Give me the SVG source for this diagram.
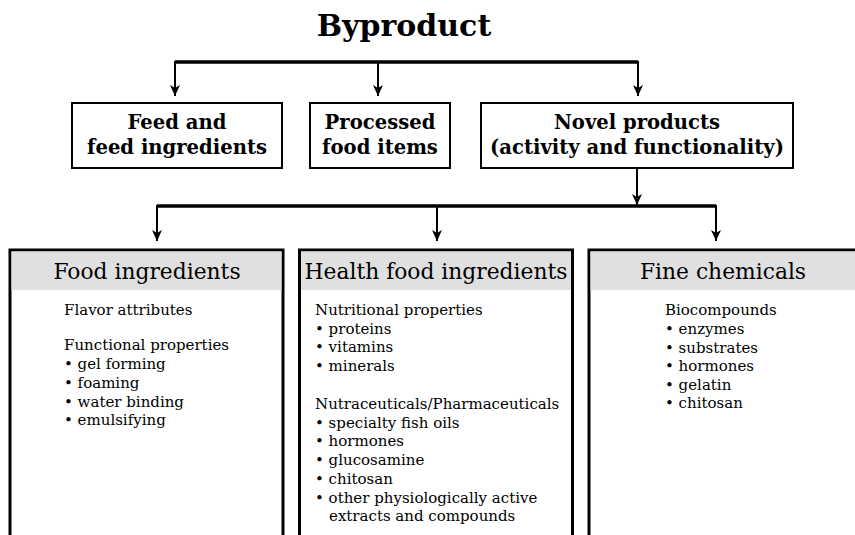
<svg xmlns="http://www.w3.org/2000/svg" width="855" height="535" viewBox="0 0 855 535">
<style>
text{font-family:"DejaVu Serif","Liberation Serif",serif;fill:#000}
.title{font-size:30px;font-weight:bold;text-anchor:middle}
.top{font-size:19.6px;font-weight:bold;text-anchor:middle}
.hdr{font-size:21.8px;text-anchor:middle}
.body{font-size:15px}
.tbox{fill:#fff;stroke:#000;stroke-width:2}
.bbox{fill:#fff;stroke:#000;stroke-width:3}
.band{fill:#e0e0e0}
.ln{fill:none;stroke:#000;stroke-width:2}
.hl{fill:none;stroke:#000;stroke-width:3.5}
</style>
<defs>
<marker id="ah" markerUnits="userSpaceOnUse" markerWidth="12" markerHeight="10" refX="11" refY="5" orient="auto" viewBox="0 0 12 10">
<path d="M0,0 L11,5 L0,10 L3,5 Z" fill="#000"/>
</marker>
</defs>
<text class="title" x="404" y="36">Byproduct</text>
<g id="connectors">
<line class="hl" x1="175" y1="62" x2="638" y2="62"/>
<line class="ln" x1="175" y1="61" x2="175" y2="96" marker-end="url(#ah)"/>
<line class="ln" x1="378" y1="61" x2="378" y2="96" marker-end="url(#ah)"/>
<line class="ln" x1="638" y1="61" x2="638" y2="96" marker-end="url(#ah)"/>
<line class="ln" x1="637" y1="168" x2="637" y2="205" marker-end="url(#ah)"/>
<line class="hl" x1="157" y1="206" x2="716" y2="206"/>
<line class="ln" x1="157" y1="205" x2="157" y2="241" marker-end="url(#ah)"/>
<line class="ln" x1="437" y1="205" x2="437" y2="241" marker-end="url(#ah)"/>
<line class="ln" x1="716" y1="205" x2="716" y2="241" marker-end="url(#ah)"/>
</g>
<g id="feed">
<rect class="tbox" x="72" y="103" width="210" height="65"/>
<text class="top" x="177" y="129">Feed and</text>
<text class="top" x="177" y="154">feed ingredients</text>
</g>
<g id="processed">
<rect class="tbox" x="310" y="103" width="140" height="65"/>
<text class="top" x="380" y="129">Processed</text>
<text class="top" x="380" y="154">food items</text>
</g>
<g id="novel">
<rect class="tbox" x="481" y="103" width="312" height="65"/>
<text class="top" x="637" y="129">Novel products</text>
<text class="top" x="637" y="154">(activity and functionality)</text>
</g>
<g id="food-ingredients">
<rect class="bbox" x="10" y="250" width="273" height="300"/>
<rect class="band" x="11.5" y="251.5" width="270" height="38.5"/>
<text class="hdr" x="147" y="279">Food ingredients</text>
<text class="body" x="64" y="315">Flavor attributes</text>
<text class="body" x="64" y="350">Functional properties</text>
<text class="body" x="64" y="369">• gel forming</text>
<text class="body" x="64" y="388">• foaming</text>
<text class="body" x="64" y="407">• water binding</text>
<text class="body" x="64" y="425">• emulsifying</text>
</g>
<g id="health-food-ingredients">
<rect class="bbox" x="299.5" y="250" width="273" height="300"/>
<rect class="band" x="301" y="251.5" width="270" height="38.5"/>
<text class="hdr" x="436" y="279">Health food ingredients</text>
<text class="body" x="315" y="315">Nutritional properties</text>
<text class="body" x="315" y="334">• proteins</text>
<text class="body" x="315" y="352">• vitamins</text>
<text class="body" x="315" y="371">• minerals</text>
<text class="body" x="315" y="409">Nutraceuticals/Pharmaceuticals</text>
<text class="body" x="315" y="428">• specialty fish oils</text>
<text class="body" x="315" y="446">• hormones</text>
<text class="body" x="315" y="465">• glucosamine</text>
<text class="body" x="315" y="484">• chitosan</text>
<text class="body" x="315" y="503">• other physiologically active</text>
<text class="body" x="329" y="521">extracts and compounds</text>
</g>
<g id="fine-chemicals">
<rect class="bbox" x="589" y="250" width="274" height="300"/>
<rect class="band" x="590.5" y="251.5" width="271" height="38.5"/>
<text class="hdr" x="723" y="279">Fine chemicals</text>
<text class="body" x="665" y="315">Biocompounds</text>
<text class="body" x="665" y="334">• enzymes</text>
<text class="body" x="665" y="353">• substrates</text>
<text class="body" x="665" y="371">• hormones</text>
<text class="body" x="665" y="390">• gelatin</text>
<text class="body" x="665" y="408">• chitosan</text>
</g>
</svg>
